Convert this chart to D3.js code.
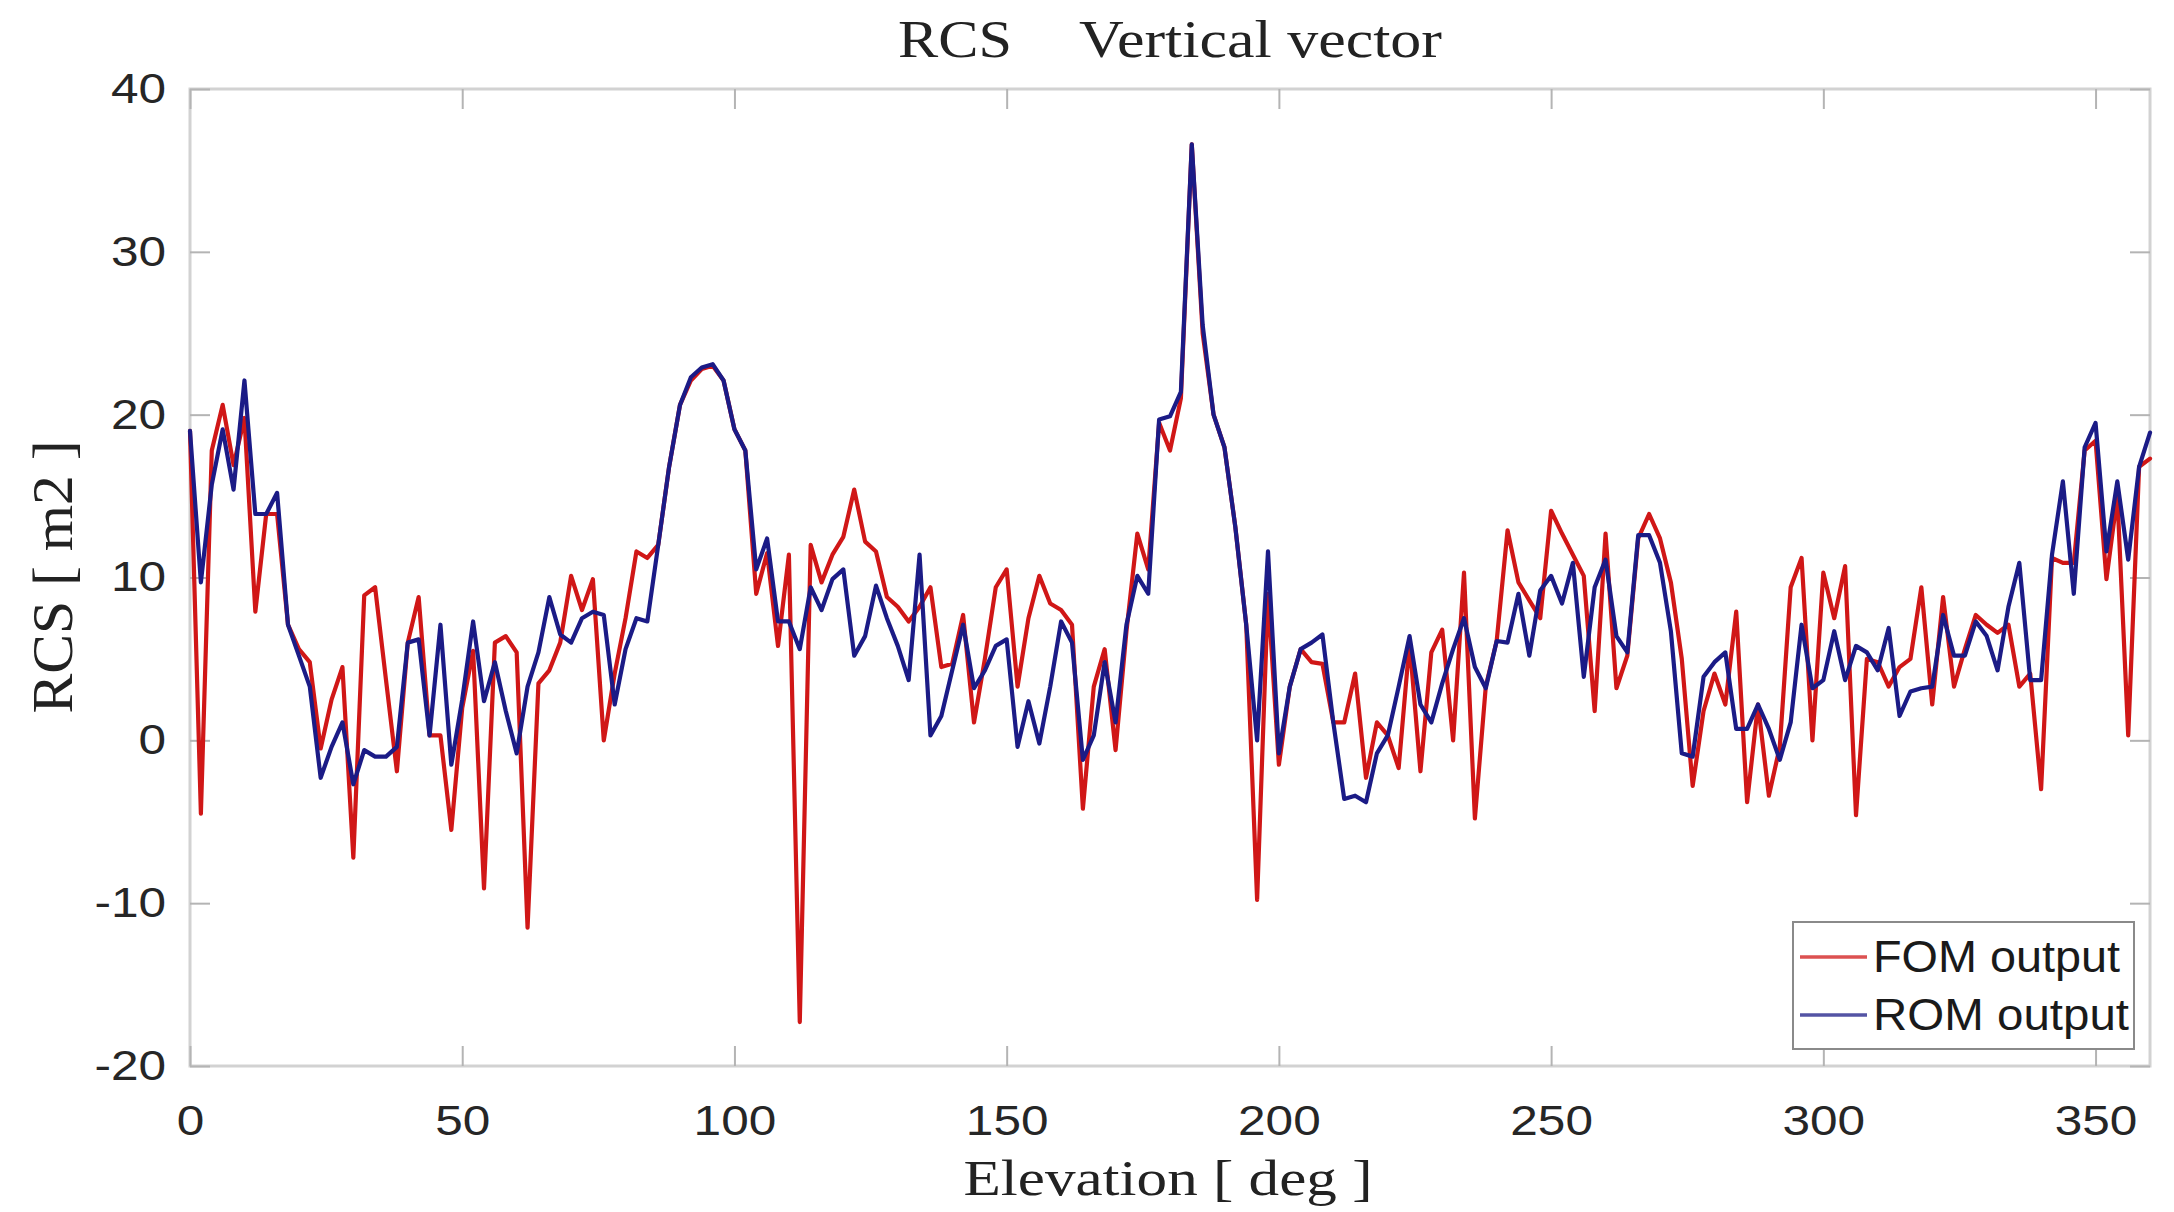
<!DOCTYPE html>
<html>
<head>
<meta charset="utf-8">
<script src="https://cdn.jsdelivr.net/npm/d3@7"></script>
<style>
body { margin: 0; background: #fff; }
</style>
</head>
<body>
<svg class="plotid" width="2174" height="1212"></svg>
<script>
// elevation angles, deg
var elevation = [
  0, 2, 4, 6, 8, 10, 12, 14, 16, 18, 20, 22, 24, 26, 28, 30, 32, 34, 36, 38,
  40, 42, 44, 46, 48, 50, 52, 54, 56, 58, 60, 62, 64, 66, 68, 70, 72, 74, 76, 78,
  80, 82, 84, 86, 88, 90, 92, 94, 96, 98, 100, 102, 104, 106, 108, 110, 112, 114, 116, 118,
  120, 122, 124, 126, 128, 130, 132, 134, 136, 138, 140, 142, 144, 146, 148, 150, 152, 154, 156, 158,
  160, 162, 164, 166, 168, 170, 172, 174, 176, 178, 180, 182, 184, 186, 188, 190, 192, 194, 196, 198,
  200, 202, 204, 206, 208, 210, 212, 214, 216, 218, 220, 222, 224, 226, 228, 230, 232, 234, 236, 238,
  240, 242, 244, 246, 248, 250, 252, 254, 256, 258, 260, 262, 264, 266, 268, 270, 272, 274, 276, 278,
  280, 282, 284, 286, 288, 290, 292, 294, 296, 298, 300, 302, 304, 306, 308, 310, 312, 314, 316, 318,
  320, 322, 324, 326, 328, 330, 332, 334, 336, 338, 340, 342, 344, 346, 348, 350, 352, 354, 356, 358,
  360
];

// FOM output, m2
var fom = [
  19.0, -4.5, 17.8, 20.6, 16.9, 19.8, 7.9, 13.9, 13.9, 7.1, 5.6, 4.8, -0.5, 2.5, 4.5, -7.2, 8.9, 9.4, 3.7, -1.9,
  6.0, 8.8, 0.3, 0.3, -5.5, 2.0, 5.5, -9.1, 6.0, 6.4, 5.4, -11.5, 3.5, 4.3, 6.0, 10.1, 8.0, 9.9, 0.0, 4.1,
  7.5, 11.6, 11.2, 12.0, 16.8, 20.6, 22.1, 22.8, 23.0, 22.1, 19.1, 17.8, 9.0, 11.5, 5.8, 11.4, -17.3, 12.0, 9.7, 11.4,
  12.5, 15.4, 12.2, 11.6, 8.8, 8.2, 7.3, 8.2, 9.4, 4.5, 4.7, 7.7, 1.1, 5.0, 9.4, 10.5, 3.3, 7.5, 10.1, 8.4,
  8.0, 7.1, -4.2, 3.3, 5.6, -0.6, 6.7, 12.7, 10.5, 19.5, 17.8, 21.0, 36.6, 25.0, 20.0, 18.0, 13.1, 7.1, -9.8, 9.0,
  -1.5, 3.3, 5.6, 4.8, 4.7, 1.1, 1.1, 4.1, -2.3, 1.1, 0.3, -1.7, 6.0, -1.9, 5.4, 6.8, 0.0, 10.3, -4.8, 3.3,
  6.1, 12.9, 9.7, 8.6, 7.5, 14.1, 12.7, 11.4, 10.1, 1.8, 12.7, 3.2, 5.2, 12.4, 13.9, 12.4, 9.7, 5.0, -2.8, 1.8,
  4.1, 2.2, 7.9, -3.8, 2.2, -3.4, -0.4, 9.4, 11.2, 0.0, 10.3, 7.5, 10.7, -4.6, 5.0, 4.8, 3.3, 4.5, 5.0, 9.4,
  2.2, 8.8, 3.3, 5.6, 7.7, 7.1, 6.6, 7.1, 3.3, 4.1, -3.0, 11.2, 10.9, 10.9, 17.8, 18.4, 9.9, 15.0, 0.3, 16.8,
  17.3
];

// ROM output, m2
var rom = [
  19.0, 9.7, 15.7, 19.1, 15.4, 22.1, 13.9, 13.9, 15.2, 7.1, 5.2, 3.3, -2.3, -0.4, 1.1, -2.7, -0.6, -1.0, -1.0, -0.4,
  6.0, 6.2, 0.3, 7.1, -1.5, 2.5, 7.3, 2.4, 4.8, 1.8, -0.8, 3.3, 5.4, 8.8, 6.5, 6.0, 7.5, 7.9, 7.7, 2.2,
  5.6, 7.5, 7.3, 12.0, 16.8, 20.6, 22.3, 22.9, 23.1, 22.1, 19.1, 17.8, 10.5, 12.4, 7.3, 7.3, 5.6, 9.4, 8.0, 9.9,
  10.5, 5.2, 6.4, 9.5, 7.5, 5.8, 3.7, 11.4, 0.3, 1.5, 4.3, 7.1, 3.2, 4.3, 5.8, 6.2, -0.4, 2.4, -0.2, 3.3,
  7.3, 6.0, -1.2, 0.3, 4.8, 1.1, 7.1, 10.1, 9.0, 19.7, 19.9, 21.4, 36.6, 25.5, 20.0, 18.0, 13.1, 7.1, 0.0, 11.6,
  -0.8, 3.3, 5.6, 6.0, 6.5, 1.1, -3.6, -3.4, -3.8, -0.8, 0.3, 3.3, 6.4, 2.2, 1.1, 3.5, 5.6, 7.5, 4.5, 3.2,
  6.1, 6.0, 9.0, 5.2, 9.2, 10.1, 8.4, 10.9, 3.9, 9.4, 11.1, 6.4, 5.4, 12.6, 12.6, 10.9, 6.7, -0.8, -1.0, 3.9,
  4.8, 5.4, 0.7, 0.7, 2.2, 0.7, -1.2, 1.1, 7.1, 3.2, 3.7, 6.7, 3.7, 5.8, 5.4, 4.3, 6.9, 1.5, 3.0, 3.2,
  3.3, 7.7, 5.2, 5.2, 7.3, 6.4, 4.3, 8.2, 10.9, 3.7, 3.7, 11.4, 15.9, 9.0, 18.0, 19.5, 11.6, 15.9, 11.1, 16.8,
  18.9
];

var xTicks = [0, 50, 100, 150, 200, 250, 300, 350];
var yTicks = [-20, -10, 0, 10, 20, 30, 40];
var seriesNames = ["FOM output", "ROM output"];
var seriesColors = ["#d01717", "#1b1b86"];

var plotid = d3.select(".plotid"),
    margin = {top: 89, right: 24, bottom: 146, left: 190},
    width = +plotid.attr("width") - margin.left - margin.right,
    height = +plotid.attr("height") - margin.top - margin.bottom,
    g = plotid.append("g").attr("transform", "translate(" + margin.left + "," + margin.top + ")");

var x = d3.scaleLinear().domain([0, 360]).range([0, width]);
var y = d3.scaleLinear().domain([-20, 40]).range([height, 0]);

// stretch text a bit wider, like the source picture
function widen(sel, k) {
  sel.each(function() {
    var w = this.getComputedTextLength();
    d3.select(this).attr("textLength", w * k).attr("lengthAdjust", "spacingAndGlyphs");
  });
}

// box
g.append("rect")
    .attr("width", width)
    .attr("height", height)
    .attr("fill", "none")
    .attr("stroke", "#d2d2d2")
    .attr("stroke-width", 3);

var tickLen = 20;

var xAxis = g.append("g")
    .attr("transform", "translate(0," + height + ")")
    .call(d3.axisBottom(x).tickValues(xTicks).tickSize(-tickLen).tickPadding(tickLen + 34));
xAxis.select(".domain").remove();

var xTop = g.append("g")
    .call(d3.axisTop(x).tickValues(xTicks).tickSize(-tickLen).tickFormat(""));
xTop.select(".domain").remove();

var yAxis = g.append("g")
    .call(d3.axisLeft(y).tickValues(yTicks).tickSize(-tickLen)
      .tickFormat(function(d) { return String(d); })
      .tickPadding(tickLen + 4));
yAxis.select(".domain").remove();

var yRight = g.append("g")
    .attr("transform", "translate(" + width + ",0)")
    .call(d3.axisRight(y).tickValues(yTicks).tickSize(-tickLen).tickFormat(""));
yRight.select(".domain").remove();

g.selectAll(".tick line").attr("stroke", "#b4b4b4").attr("stroke-width", 2);
g.selectAll(".tick text")
    .attr("fill", "#262626")
    .attr("font-family", "Liberation Sans, Arial, sans-serif")
    .attr("font-size", 42);
xAxis.selectAll(".tick text").attr("dy", "0.35em");
widen(g.selectAll(".tick text"), 1.18);

// lines
var line = d3.line()
    .x(function(d, i) { return x(elevation[i]); })
    .y(function(d) { return y(d); });

[fom, rom].forEach(function(s, i) {
  g.append("path")
      .datum(s)
      .attr("fill", "none")
      .attr("stroke", seriesColors[i])
      .attr("stroke-width", 4.2)
      .attr("stroke-linejoin", "round")
      .attr("stroke-linecap", "round")
      .attr("d", line);
});

// legend
var lg = g.append("g").attr("transform", "translate(" + (width - 357) + "," + (height - 144) + ")");
lg.append("rect")
    .attr("width", 341)
    .attr("height", 127)
    .attr("fill", "#fff")
    .attr("stroke", "#8a8a8a")
    .attr("stroke-width", 2);
seriesNames.forEach(function(name, i) {
  var yy = 35 + i * 58;
  lg.append("line")
      .attr("x1", 7).attr("x2", 74)
      .attr("y1", yy).attr("y2", yy)
      .attr("stroke", seriesColors[i])
      .attr("stroke-opacity", 0.75)
      .attr("stroke-width", 3.5);
  lg.append("text")
      .attr("x", 80)
      .attr("y", yy)
      .attr("dy", "0.35em")
      .attr("fill", "#1a1a1a")
      .attr("font-family", "Liberation Sans, Arial, sans-serif")
      .attr("font-size", 44)
      .attr("textLength", i == 0 ? 247 : 256)
      .attr("lengthAdjust", "spacingAndGlyphs")
      .text(name);
});

// title and axis labels
var serif = "Liberation Serif, 'DejaVu Serif', serif";
plotid.append("text")
    .attr("x", 898).attr("y", 57)
    .attr("font-family", serif).attr("font-size", 53).attr("fill", "#222")
    .attr("textLength", 114).attr("lengthAdjust", "spacingAndGlyphs")
    .text("RCS");
plotid.append("text")
    .attr("x", 1079).attr("y", 57)
    .attr("font-family", serif).attr("font-size", 53).attr("fill", "#222")
    .attr("textLength", 363).attr("lengthAdjust", "spacingAndGlyphs")
    .text("Vertical vector");

plotid.append("text")
    .attr("x", 1168).attr("y", 1195)
    .attr("text-anchor", "middle")
    .attr("font-family", serif).attr("font-size", 50).attr("fill", "#222")
    .attr("textLength", 409).attr("lengthAdjust", "spacingAndGlyphs")
    .text("Elevation [ deg ]");

plotid.append("text")
    .attr("transform", "translate(72,577) scale(1.12,1) rotate(-90)")
    .attr("text-anchor", "middle")
    .attr("font-family", serif).attr("font-size", 50).attr("fill", "#222")
    .attr("textLength", 273).attr("lengthAdjust", "spacingAndGlyphs")
    .text("RCS [ m2 ]");
</script>
</body>
</html>
